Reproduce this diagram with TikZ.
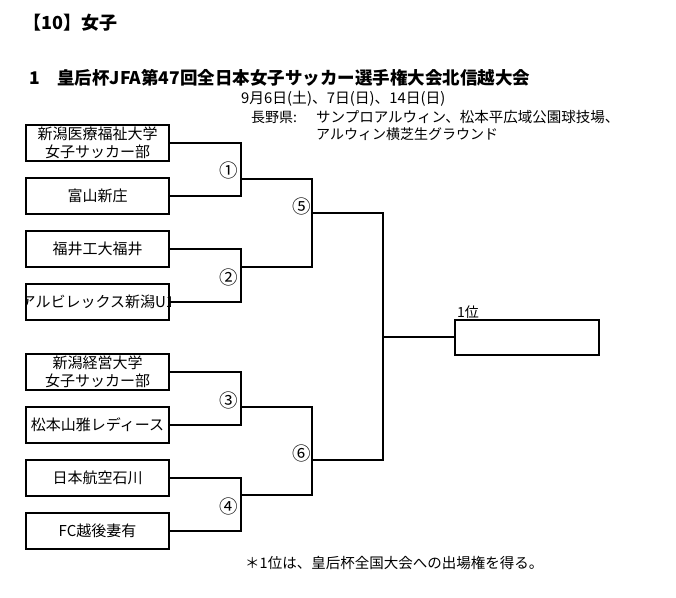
\documentclass[tikz,border=0pt]{standalone}
\usepackage{fontspec}
\setmainfont{Noto Sans CJK JP}
\begin{document}
\begin{tikzpicture}[x=1pt,y=-1pt,
  team/.style={draw, line width=2pt, minimum width=143pt, minimum height=36pt, inner sep=0pt, align=center, font=\fontsize{15}{18}\selectfont},
  winbox/.style={draw, line width=2pt, minimum width=144pt, minimum height=35pt, inner sep=0pt},
  br/.style={line width=2.2pt, line join=miter},
  num/.style={font=\fontsize{18.5}{18.5}\selectfont, inner sep=0pt},
  info/.style={font=\fontsize{14}{14}\selectfont, inner sep=0pt, anchor=west},
  head/.style={font=\bfseries\fontsize{18}{18}\selectfont, inner sep=0pt, anchor=west}]
\useasboundingbox (0,0) rectangle (676,597);

% headings
\node[head] (hd) at (23,23) {【10】女子};
\node[head, font=\bfseries\fontsize{17.5}{17.5}\selectfont] (title) at (29,78) {1　皇后杯JFA第47回全日本女子サッカー選手権大会北信越大会};
\node[info, font=\fontsize{14.8}{14.8}\selectfont] (date) at (241,99) {9月6日(土)、7日(日)、14日(日)};
\node[info] (pref) at (251,117) {長野県:};
\node[info, font=\fontsize{14.5}{14.5}\selectfont] (ven1) at (316,117) {サンプロアルウィン、松本平広域公園球技場、};
\node[info] (ven2) at (316,134) {アルウィン横芝生グラウンド};

% teams
\node[team] (b1) at (97.5,143) {新潟医療福祉大学\\女子サッカー部};
\node[team] (b2) at (97.5,196) {富山新庄};
\node[team] (b3) at (97.5,249) {福井工大福井};
\node[team] (b4) at (97.5,302) {};
\begin{scope}
  \clip (b4.south west) rectangle (b4.north east);
  \node[inner sep=0pt, font=\fontsize{15}{18}\selectfont] (t4) at (b4.center) {アルビレックス新潟U1};
\end{scope}
\node[team] (b5) at (97.5,372) {新潟経営大学\\女子サッカー部};
\node[team] (b6) at (97.5,425) {松本山雅レディース};
\node[team] (b7) at (97.5,478) {日本航空石川};
\node[team] (b8) at (97.5,531) {FC越後妻有};

% winner box
\node[winbox] (fin) at (527,337) {};
\node[info] (first) at (457,312) {1位};

% junctions
\coordinate (j1) at (241,179);
\coordinate (j2) at (241,267);
\coordinate (j3) at (241,407);
\coordinate (j4) at (241,495);
\coordinate (j5) at (312,213);
\coordinate (j6) at (312,460);
\coordinate (j7) at (383,337);

\draw[br] (b1.east) -| (j1) |- (b2.east);
\draw[br] (b3.east) -| (j2) |- (b4.east);
\draw[br] (b5.east) -| (j3) |- (b6.east);
\draw[br] (b7.east) -| (j4) |- (b8.east);
\draw[br] (j1) -| (j5) |- (j2);
\draw[br] (j3) -| (j6) |- (j4);
\draw[br] (j5) -| (j7) |- (j6);
\draw[br] (j7) -- (fin.west);

% match numbers
\node[num] (m1) at (229,170) {①};
\node[num] (m2) at (229,277) {②};
\node[num] (m3) at (229,400) {③};
\node[num] (m4) at (229,506) {④};
\node[num] (m5) at (302,206) {⑤};
\node[num] (m6) at (302,453) {⑥};

% note
\node[info, font=\fontsize{14.5}{14.5}\selectfont] (note) at (245,563) {＊1位は、皇后杯全国大会への出場権を得る。};
\end{tikzpicture}
\end{document}
